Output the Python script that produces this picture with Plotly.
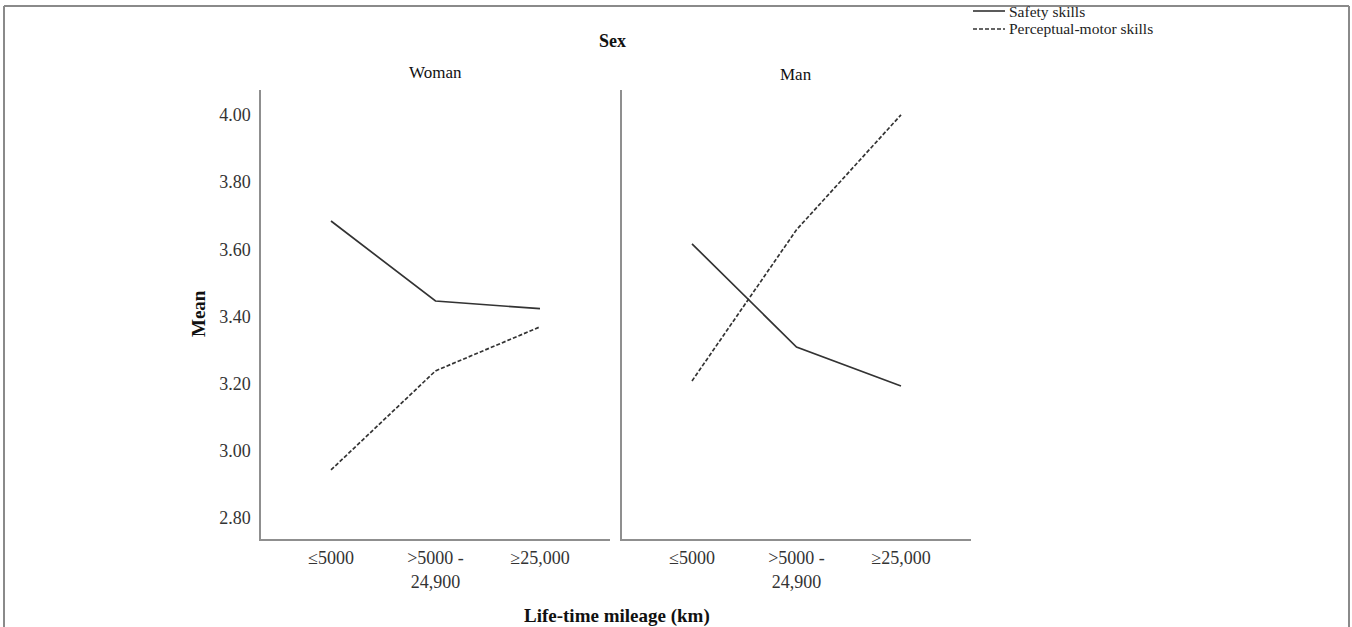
import plotly.graph_objects as go

categories = ["≤5000", ">5000 -<br>24,900", "≥25,000"]
panels = ["Woman", "Man"]
safety_woman = [3.684, 3.446, 3.423]
perceptual_woman = [2.943, 3.238, 3.369]
safety_man = [3.616, 3.309, 3.193]
perceptual_man = [3.208, 3.658, 4.00]
y_ticks = [2.80, 3.00, 3.20, 3.40, 3.60, 3.80, 4.00]
series_names = ["Safety skills", "Perceptual-motor skills"]

W, H = 1352, 627
FONT = "Liberation Serif"
LINE_COL = "#333333"
AXIS_COL = "#8f8f8f"

def px(x):
    return x / W

def py(y):
    return 1 - y / H

fig = go.Figure()
x_idx = list(range(len(categories)))

series = [
    (series_names[0], safety_woman, safety_man, "solid"),
    (series_names[1], perceptual_woman, perceptual_man, "4px,2px"),
]
for name, w_vals, m_vals, dash in series:
    fig.add_trace(go.Scatter(x=x_idx, y=w_vals, mode="lines", name=name,
                             line=dict(color=LINE_COL, width=1.7, dash=dash),
                             xaxis="x", yaxis="y", showlegend=False))
    fig.add_trace(go.Scatter(x=x_idx, y=m_vals, mode="lines", name=name,
                             line=dict(color=LINE_COL, width=1.7, dash=dash),
                             xaxis="x2", yaxis="y2", showlegend=False))

xcommon = dict(range=[-0.67, 2.67], tickmode="array", tickvals=x_idx,
               ticktext=categories, showgrid=False, zeroline=False,
               showline=True, linecolor=AXIS_COL, linewidth=1.5, ticks="",
               tickfont=dict(family=FONT, size=18, color="#333"),
               ticklabelstandoff=2)
ycommon = dict(range=[2.7375, 4.074], showgrid=False, zeroline=False,
               showline=True, linecolor=AXIS_COL, linewidth=1.5, ticks="",
               domain=[py(539), py(90)])

fig.update_layout(
    width=W, height=H,
    margin=dict(l=0, r=0, t=0, b=0),
    paper_bgcolor="white", plot_bgcolor="white",
    xaxis=dict(domain=[px(261), px(610)], anchor="y", **xcommon),
    xaxis2=dict(domain=[px(622), px(971)], anchor="y2", **xcommon),
    yaxis=dict(anchor="x", tickmode="array", tickvals=y_ticks,
               ticktext=[f"{v:.2f}" for v in y_ticks],
               tickfont=dict(family=FONT, size=18, color="#333"),
               ticklabelstandoff=5, **ycommon),
    yaxis2=dict(anchor="x2", showticklabels=False, **ycommon),
    showlegend=False,
)

annotations = [
    dict(text="<b>Sex</b>", x=px(612), y=py(41), font=dict(size=18)),
    dict(text=panels[0], x=px(435), y=py(73), font=dict(size=17)),
    dict(text=panels[1], x=px(796), y=py(74), font=dict(size=17)),
    dict(text="<b>Mean</b>", x=px(198), y=py(314), textangle=-90, font=dict(size=19)),
    dict(text="<b>Life-time mileage (km)</b>", x=px(617), y=py(616), font=dict(size=19)),
]
for a in annotations:
    a["font"].update(family=FONT, color="#111")
    fig.add_annotation(xref="paper", yref="paper", showarrow=False,
                       xanchor="center", yanchor="middle", **a)

# legend drawn as key lines + labels
legend_rows = [(series_names[0], "solid", 11), (series_names[1], "4px,2px", 29)]
for name, dash, yy in legend_rows:
    fig.add_shape(type="line", xref="paper", yref="paper",
                  x0=px(973), x1=px(1005), y0=py(yy), y1=py(yy),
                  line=dict(color=LINE_COL, width=1.6, dash=dash))
    fig.add_annotation(xref="paper", yref="paper", showarrow=False,
                       x=px(1008), y=py(yy), xanchor="left", yanchor="middle",
                       borderpad=0, text=name,
                       font=dict(family=FONT, size=15.5, color="#222"))

# outer frame (left, top, right)
for x0, y0, x1, y1 in [(4, 6, 4, 627), (4, 6, 1349, 6), (1349, 6, 1349, 627)]:
    fig.add_shape(type="line", xref="paper", yref="paper",
                  x0=px(x0), y0=py(y0), x1=px(x1), y1=py(y1),
                  line=dict(color="#8a8a8a", width=2))

fig.write_html("out.html")
